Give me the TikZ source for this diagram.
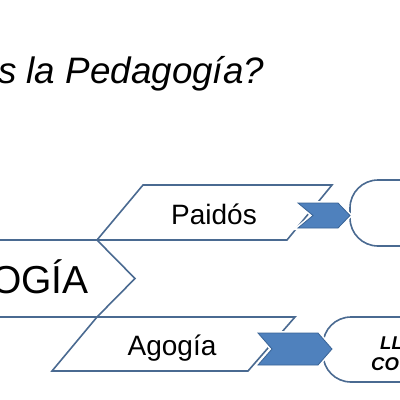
\documentclass[tikz,border=0pt]{standalone}
\usepackage{fontspec}
\setmainfont{Liberation Sans}
\usepackage{xcolor}
\usepackage{tikz}
\usetikzlibrary{
    positioning,
    calc
}
\definecolor{edgeblue}{RGB}{74,106,145}
\definecolor{fillblue}{RGB}{79,129,189}
\definecolor{darkblue}{RGB}{58,100,150}
\tikzset{
  outline/.style = {
      draw=edgeblue,
      line width=1.6pt,
      line join=miter
  },
  banner/.style = {
      outline,
      fill=white
  },
  roundbox/.style = {
      outline,
      fill=white,
      rounded corners=28pt
  },
  pointer/.style = {
      draw=darkblue,
      line width=0.8pt,
      fill=fillblue
  },
  halo/.style = {
      draw=white,
      line width=4pt
  },
  caption/.style = {
      inner sep=0pt,
      font=\fontsize{28}{30}\selectfont
  },
  title/.style = {
      inner sep=0pt,
      font=\fontsize{36.8}{40}\selectfont\itshape
  },
  bigword/.style = {
      inner sep=0pt,
      font=\fontsize{39}{42}\selectfont
  },
  boxword/.style = {
      inner sep=0pt,
      font=\fontsize{18.5}{20}\selectfont\bfseries\itshape
  }
}
\begin{document}
\begin{tikzpicture}[x=1pt, y=-1pt]
        \clip (0,0) rectangle (400,400);
        \fill[white] (0,0) rectangle (400,400);
        % Title
        \node[title, anchor=base west] (question) at (-2,83) {s la Pedagogía?};
        % Main chevron
        \draw[outline] (-5,240) -- (97,240) -- (135,278.5) -- (97,317) -- (-5,317);
        \node[bigword, anchor=base east] (main) at (89,293) {OGÍA};
        % Banners
        \draw[banner] (97,240) -- (143,185) -- (332,185) -- (287,240) -- cycle;
        \draw[banner] (52,371) -- (97,317) -- (295,317) -- (248,371) -- cycle;
        \node[caption, anchor=base] (paidos) at (214,224) {Paidós};
        \node[caption, anchor=base] (agogia) at (172,355) {Agogía};
        % Boxes on the right
        \draw[roundbox] (350,180) rectangle (430,246);
        \draw[roundbox] (323,317) rectangle (430,382);
        \node[boxword, anchor=base west] (lltext) at (380,349) {LL};
        \node[boxword, anchor=base west] (cotext) at (371,370) {CO};
        % Pointers
        \draw[halo] (298,203) -- (338,203) -- (350,215.5) -- (338,228) -- (298,228) -- (313,215.5) -- cycle;
        \draw[pointer] (298,203) -- (338,203) -- (350,215.5) -- (338,228) -- (298,228) -- (313,215.5) -- cycle;
        \draw[halo] (258,333) -- (318,333) -- (332,349) -- (318,365) -- (258,365) -- (272,349) -- cycle;
        \draw[pointer] (258,333) -- (318,333) -- (332,349) -- (318,365) -- (258,365) -- (272,349) -- cycle;
    \end{tikzpicture}
\end{document}
